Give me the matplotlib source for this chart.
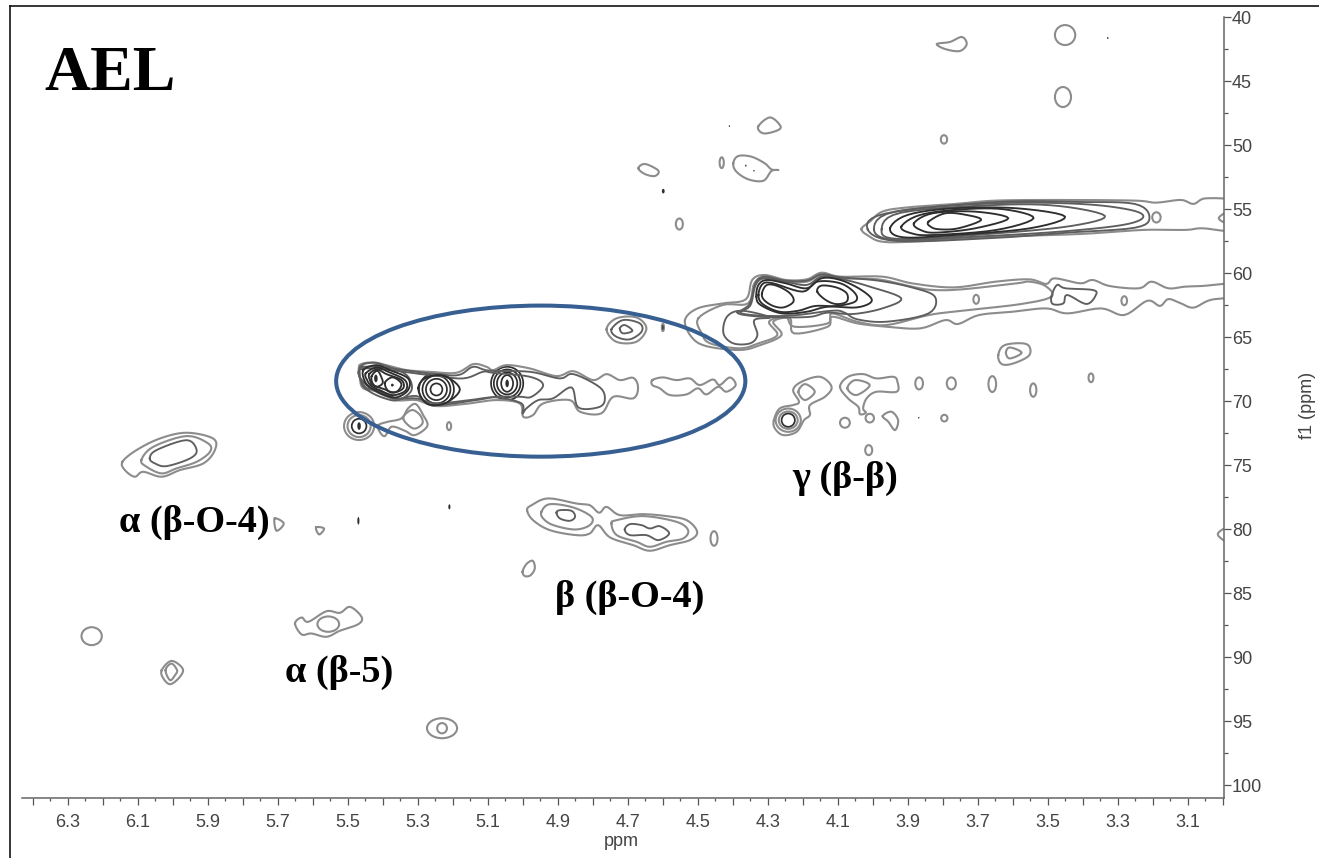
import numpy as np
from matplotlib import pyplot as plt
from matplotlib.lines import Line2D
from matplotlib.patches import Ellipse
from matplotlib.ticker import FixedLocator

W, H = 1319, 858

# contours, as (ppm, f1) vertices
# methoxy band near 56 ppm
ome_outer = [(4.033,56.58),(4.009,55.99),(3.973,55.2),(3.901,54.87),(3.769,54.61),(3.649,54.34),(3.469,54.29),(3.252,54.34),(3.192,54.5),(3.12,54.29),(3.084,54.6),(3.048,54.16),(2.96,54.5),(2.96,56.6),(3.06,56.5),(3.108,56.63),(3.228,56.63),(3.409,56.95),(3.649,57.16),(3.889,57.55),(3.973,57.55),(4.009,57.16)]
ome_2 = [(4.015,56.58),(3.961,55.33),(3.649,54.45),(3.408,54.45),(3.252,54.6),(3.21,55.6),(3.25,56.45),(3.45,56.85),(3.65,57.25),(3.93,57.5)]
ome_3 = [(3.997,56.58),(3.937,55.2),(3.649,54.55),(3.408,54.6),(3.264,55.07),(3.228,55.65),(3.288,56.25),(3.469,56.77),(3.709,57.16),(3.937,57.42)]
ome_4 = [(3.975,56.58),(3.919,55.28),(3.649,54.68),(3.469,54.76),(3.337,55.54),(3.433,56.32),(3.649,56.9),(3.925,57.34)]
ome_5 = [(3.951,56.51),(3.901,55.46),(3.769,54.94),(3.589,54.94),(3.451,55.59),(3.553,56.51),(3.769,57.03),(3.913,57.21)]
ome_6 = [(3.919,56.38),(3.865,55.46),(3.745,55.02),(3.625,55.02),(3.541,55.72),(3.649,56.64),(3.829,57.03),(3.889,56.9)]
ome_7 = [(3.883,56.12),(3.829,55.33),(3.709,55.2),(3.613,55.72),(3.709,56.51),(3.817,56.84),(3.859,56.69)]
ome_8 = [(3.841,55.99),(3.793,55.33),(3.733,55.46),(3.691,55.86),(3.757,56.51),(3.811,56.58),(3.835,56.38)]

# band near 62 ppm
band_outer = [(4.537,63.67),(4.501,62.76),(4.429,62.37),(4.363,62.05),(4.345,60.54),(4.309,60.15),(4.249,60.54),(4.189,60.49),(4.147,59.97),(4.093,60.28),(3.973,60.28),(3.889,60.8),(3.769,61.12),(3.649,60.67),(3.553,60.49),(3.505,60.85),(3.481,60.41),(3.408,60.8),(3.372,60.54),(3.324,61.01),(3.24,61.19),(3.204,60.67),(3.156,61.19),(3.108,61.06),(3.06,61.01),(2.96,60.85),(2.96,61.79),(3.036,62.1),(3.084,62.7),(3.12,62.37),(3.156,62.03),(3.18,62.57),(3.216,62.16),(3.282,63.28),(3.348,62.76),(3.445,63.15),(3.505,62.76),(3.601,63.02),(3.697,63.28),(3.757,63.98),(3.793,63.67),(3.865,64.32),(3.961,64.19),(4.045,63.93),(4.117,63.41),(4.129,64.19),(4.225,64.71),(4.237,63.54),(4.285,63.8),(4.261,64.84),(4.321,65.62),(4.381,66.01),(4.477,65.7),(4.519,64.97)]
band_2 = [(4.499,63.54),(4.489,64.71),(4.465,65.49),(4.381,65.88),(4.327,65.49),(4.273,64.84),(4.297,63.8),(4.249,63.41),(4.225,64.19),(4.129,63.93),(4.117,63.15),(4.045,63.8),(3.961,64.06),(3.841,63.28),(3.745,62.94),(3.577,62.42),(3.49,61.84),(3.507,61.01),(3.553,60.67),(3.589,60.8),(3.745,61.27),(3.829,61.32),(3.889,61.06),(3.985,60.49),(4.093,60.41),(4.147,60.15),(4.189,60.67),(4.249,60.67),(4.309,60.33),(4.339,60.8),(4.357,62.37),(4.429,62.49)]
band_3 = [(4.351,62.37),(4.335,60.75),(4.309,60.28),(4.249,60.59),(4.189,60.59),(4.147,60.1),(4.093,60.33),(3.985,60.59),(3.889,61.12),(3.823,61.84),(3.841,63.15),(3.961,63.8),(4.045,63.61),(4.081,63.09),(4.117,62.94),(4.249,63.35),(4.375,63.15)]
band_4 = [(4.387,63.09),(4.351,62.57),(4.335,60.93),(4.309,60.41),(4.249,60.67),(4.189,60.93),(4.147,60.28),(4.093,60.44),(4.009,61.06),(3.919,61.97),(3.973,62.76),(4.057,63.2),(4.129,63.09),(4.177,63.41),(4.261,63.46),(4.345,63.35)]
band_lobe = [(4.375,62.94),(4.417,63.41),(4.427,64.71),(4.399,65.49),(4.351,65.49),(4.33,64.84),(4.339,63.67),(4.294,63.46)]
band_5 = [(4.333,61.84),(4.327,60.93),(4.303,60.54),(4.249,60.8),(4.189,61.19),(4.147,60.41),(4.093,60.54),(4.033,61.32),(4.003,62.16),(4.045,62.68),(4.129,62.63),(4.189,63.02),(4.261,63.15),(4.321,62.49)]
band_6 = [(4.327,61.71),(4.315,60.85),(4.285,60.8),(4.201,61.45),(4.159,60.67),(4.093,60.8),(4.051,61.58),(4.051,62.23),(4.105,62.57),(4.165,62.57),(4.213,62.94),(4.267,63.02),(4.315,62.42)]
band_peak_l = [(4.317,61.58),(4.303,60.93),(4.273,61.01),(4.237,61.58),(4.227,62.23),(4.255,62.68),(4.285,62.57),(4.311,62.1)]
band_peak_r = [(4.159,61.45),(4.147,60.98),(4.105,61.12),(4.075,61.58),(4.075,62.23),(4.105,62.42),(4.135,62.1)]
band_tail = [(3.49,61.84),(3.474,60.93),(3.45,61.19),(3.372,61.32),(3.363,61.71),(3.39,62.42),(3.445,61.71),(3.456,62.37),(3.486,62.42)]

# circled region near 68 ppm
aryl_outer = [(5.466,67.19),(5.428,66.98),(5.39,67.19),(5.332,67.58),(5.266,67.71),(5.19,67.79),(5.142,67.11),(5.104,67.32),(5.085,67.58),(5.047,67.19),(4.98,67.45),(4.904,68.05),(4.856,67.66),(4.799,68.36),(4.761,67.89),(4.723,68.36),(4.685,68.18),(4.671,68.93),(4.685,69.79),(4.742,69.66),(4.776,70.96),(4.837,70.83),(4.866,69.92),(4.942,70.18),(4.971,71.09),(4.999,71.22),(5.009,70.18),(5.076,69.92),(5.152,70.18),(5.247,70.39),(5.304,69.92),(5.361,69.92),(5.409,69.27),(5.456,69.0),(5.466,68.1)]
aryl_2 = [(5.456,67.32),(5.266,67.84),(5.185,67.97),(5.142,67.32),(5.095,67.63),(4.98,67.71),(4.895,68.23),(4.856,67.89),(4.78,68.93),(4.766,69.92),(4.785,70.49),(4.842,70.49),(4.861,68.93),(4.914,69.79),(4.956,69.92),(4.99,70.57),(5.001,70.96),(5.004,70.18),(5.076,69.71),(5.152,69.92),(5.247,70.18),(5.304,69.79),(5.361,69.79),(5.409,69.14),(5.451,68.88)]
aryl_3 = [(5.456,67.45),(5.266,67.97),(5.171,68.23),(5.114,67.71),(5.085,67.79),(4.98,68.1),(4.942,68.75),(4.975,69.66),(5.009,69.66),(5.076,69.66),(5.133,69.92),(5.256,70.31),(5.304,69.6),(5.371,69.79),(5.447,68.75)]
aryl_mid = [(5.299,69.0),(5.275,68.15),(5.223,68.05),(5.18,69.09),(5.223,70.18),(5.275,70.18)]
aryl_c1 = [(5.464,67.32),(5.428,67.0),(5.39,67.27),(5.332,67.97),(5.318,69.14),(5.356,69.92),(5.394,69.79),(5.437,69.27),(5.461,68.62)]
aryl_c2 = [(5.456,67.58),(5.418,67.19),(5.38,67.58),(5.328,68.23),(5.328,69.14),(5.361,69.71),(5.394,69.53),(5.432,69.0),(5.451,68.49)]
aryl_c3 = [(5.449,67.84),(5.418,67.37),(5.385,67.71),(5.337,68.36),(5.334,69.14),(5.366,69.53),(5.394,69.35),(5.432,68.83),(5.445,68.36)]
aryl_c4 = [(5.439,67.89),(5.416,67.53),(5.39,67.89),(5.347,68.36),(5.342,69.0),(5.371,69.35),(5.394,69.09),(5.428,68.75),(5.437,68.36)]
aryl_c5a = [(5.432,68.05),(5.416,67.63),(5.404,68.15),(5.401,68.62),(5.418,68.88),(5.43,68.57)]
aryl_c5b = [(5.394,68.57),(5.375,68.15),(5.356,68.36),(5.347,68.75),(5.361,69.27),(5.385,69.19)]
aryl_low = [(5.413,71.88),(5.385,71.61),(5.347,71.35),(5.328,70.57),(5.306,70.23),(5.285,71.09),(5.273,71.95),(5.309,72.66),(5.337,72.32),(5.375,72.0),(5.394,72.73),(5.409,72.4)]
aryl_low_in = [(5.342,71.35),(5.318,70.7),(5.294,71.09),(5.287,71.75),(5.313,72.14)]
aryl_right = [(4.63,68.36),(4.6,68.15),(4.561,68.36),(4.523,68.23),(4.495,68.75),(4.457,68.31),(4.438,68.75),(4.409,68.15),(4.392,68.75),(4.419,69.27),(4.442,68.88),(4.476,69.48),(4.5,69.0),(4.533,69.48),(4.58,69.53),(4.609,69.0),(4.63,68.75)]
up_o = [(4.761,64.4),(4.733,63.54),(4.676,63.46),(4.647,64.32),(4.676,65.37),(4.733,65.37)]
up_m = [(4.747,64.4),(4.714,63.67),(4.666,63.93),(4.661,64.58),(4.695,65.18),(4.733,64.97)]
up_i = [(4.723,64.32),(4.709,64.06),(4.687,64.51),(4.714,64.71)]

# alpha (b-O-4) and alpha (b-5) groups
a4_o = [(6.144,74.74),(6.104,73.83),(6.037,72.92),(5.961,72.47),(5.885,72.92),(5.88,73.83),(5.913,74.87),(5.98,75.39),(6.032,75.91),(6.085,75.52),(6.109,75.91),(6.137,75.39)]
a4_m = [(6.09,74.61),(6.056,73.57),(5.961,72.73),(5.899,73.31),(5.894,73.96),(5.932,74.74),(5.99,75.26),(6.032,75.65),(6.075,75.13)]
a4_i = [(6.066,74.48),(6.047,73.83),(5.961,73.05),(5.932,73.83),(5.951,74.48),(6.018,75.08),(6.051,74.87)]
a5_o = [(5.651,87.37),(5.632,86.9),(5.613,87.24),(5.561,86.41),(5.523,86.54),(5.494,86.07),(5.461,86.85),(5.47,87.42),(5.523,87.94),(5.561,88.41),(5.604,88.15),(5.632,88.23)]
ring90_o = [(6.032,91.02),(6.004,90.29),(5.972,90.89),(5.98,91.54),(6.007,92.11),(6.027,91.67)]
ring90_i = [(6.021,91.02),(6.004,90.5),(5.988,91.02),(5.994,91.41),(6.008,91.8)]
tri_1 = [(5.709,79.17),(5.683,79.56),(5.704,80.13)]
tri_2 = [(5.591,79.87),(5.568,79.95),(5.582,80.42)]

# beta (b-O-4)
b4_o = [(4.988,78.52),(4.975,78.13),(4.928,77.6),(4.847,78.0),(4.809,78.13),(4.782,78.72),(4.761,78.26),(4.723,78.91),(4.656,78.83),(4.59,78.98),(4.532,79.3),(4.502,80.21),(4.523,80.86),(4.58,81.25),(4.637,81.69),(4.685,81.25),(4.751,80.65),(4.785,79.69),(4.809,80.34),(4.847,80.47),(4.923,80.08),(4.971,79.3)]
b4_l1 = [(4.947,78.65),(4.923,78.05),(4.856,78.31),(4.804,79.04),(4.809,79.69),(4.851,80.03),(4.913,79.69),(4.942,79.17)]
b4_l2 = [(4.904,78.72),(4.894,78.52),(4.861,78.57),(4.851,79.04),(4.866,79.35),(4.894,79.17)]
b4_r1 = [(4.747,79.56),(4.732,79.3),(4.656,78.98),(4.561,79.43),(4.528,80.08),(4.542,80.73),(4.59,80.99),(4.637,81.38),(4.675,80.99),(4.732,80.47)]
b4_r2 = [(4.709,80.03),(4.694,79.61),(4.661,79.69),(4.637,79.95),(4.609,79.77),(4.582,80.34),(4.613,80.86),(4.647,80.47),(4.694,80.47)]
b4_drop = [(5.001,83.33),(4.99,82.73),(4.972,82.47),(4.966,83.07),(4.978,83.6),(4.994,83.67)]

# gamma (b-b) group
g_a = [(4.283,71.49),(4.266,70.57),(4.228,70.31),(4.211,70.05),(4.228,69.14),(4.204,68.49),(4.151,68.1),(4.118,68.88),(4.137,69.66),(4.18,70.31),(4.18,71.09),(4.197,71.49),(4.218,72.4),(4.256,72.66),(4.28,72.14)]
g_a_in = [(4.213,69.27),(4.194,68.67),(4.166,69.27),(4.194,69.92)]
g_b = [(4.094,68.88),(4.071,68.1),(4.028,67.89),(3.99,68.23),(3.942,68.1),(3.93,68.49),(3.932,69.27),(3.99,69.27),(4.018,69.79),(4.028,70.57),(4.02,70.91),(4.037,71.02),(4.042,70.44),(4.071,69.79)]
g_b_in = [(4.073,69.01),(4.051,68.36),(4.009,68.75),(4.047,69.53)]
g_c = [(3.972,71.17),(3.947,70.83),(3.928,71.49),(3.937,72.27),(3.956,71.61)]
g_up_o = [(3.642,66.41),(3.623,65.62),(3.561,65.55),(3.553,66.41),(3.599,67.06),(3.632,67.11)]
g_up_i = [(3.62,66.22),(3.609,65.81),(3.575,66.22),(3.609,66.67)]

# top of the plot
top_1 = [(3.817,42.11),(3.78,41.95),(3.746,41.56),(3.732,42.11),(3.752,42.66),(3.794,42.5)]
top_2 = [(4.328,48.57),(4.294,47.84),(4.264,48.52),(4.275,48.88),(4.313,49.09)]
top_3 = [(4.399,51.43),(4.385,50.86),(4.347,50.91),(4.309,51.43),(4.29,51.9),(4.27,51.95),(4.29,52.03),(4.313,52.79),(4.356,52.68),(4.39,52.08)]
top_4 = [(4.67,51.82),(4.651,51.48),(4.613,52.0),(4.623,52.42),(4.651,52.27)]

light_contours = [ome_outer, band_outer, aryl_outer, aryl_low, aryl_right, up_o, a4_o, a5_o, ring90_o, tri_1, tri_2,
                  b4_o, b4_drop, g_a, g_b, g_c, g_a_in, g_b_in, g_up_o, g_up_i, top_1, top_2, top_3, top_4, b4_r1, b4_l1,
                  ring90_i, aryl_low_in, a4_m, band_2]
mid_contours = [ome_2, ome_3, band_3, band_lobe, band_tail, aryl_2, aryl_3, up_m, up_i, a4_i, b4_l2, b4_r2, aryl_c1, ome_4, band_4]
dark_contours = [ome_5, ome_6, ome_7, ome_8, band_5, band_6, band_peak_l, band_peak_r, aryl_mid,
                 aryl_c2, aryl_c3, aryl_c4, aryl_c5a, aryl_c5b]

# single small contours
spot_x = [3.19, 3.705, 3.282, 5.211, 4.6, 4.08, 4.009, 4.012, 3.868, 3.776, 3.659, 3.542, 3.377, 3.796, 3.451, 3.457, 4.432, 4.553, 3.797, 4.454, 6.232, 5.556, 5.231, 5.231, 5.468, 5.468, 4.242, 4.242]
spot_y = [55.65, 62.05, 62.16, 71.95, 64.25, 71.69, 71.33, 73.83, 68.62, 68.62, 68.67, 69.14, 68.18, 71.33, 41.41, 46.25, 51.38, 56.17, 49.56, 80.73, 88.36, 87.42, 95.55, 95.55, 71.95, 71.95, 71.49, 71.49]
spot_rx = [0.012, 0.008, 0.008, 0.006, 0.003, 0.014, 0.012, 0.01, 0.011, 0.013, 0.011, 0.009, 0.007, 0.009, 0.029, 0.023, 0.006, 0.01, 0.009, 0.01, 0.029, 0.031, 0.043, 0.014, 0.043, 0.033, 0.036, 0.027]
spot_ry = [0.4, 0.35, 0.35, 0.31, 0.28, 0.39, 0.34, 0.39, 0.47, 0.47, 0.62, 0.52, 0.34, 0.26, 0.78, 0.78, 0.42, 0.43, 0.33, 0.57, 0.7, 0.6, 0.78, 0.4, 1.09, 0.86, 0.91, 0.68]

# nested peaks: x, y, rx, ry
peak_x = [5.045, 5.045, 5.045, 5.045, 5.247, 5.247, 5.247, 5.247, 5.468, 4.242]
peak_y = [68.62, 68.62, 68.62, 68.62, 69.09, 69.09, 69.09, 69.09, 71.95, 71.49]
peak_rx = [0.046, 0.038, 0.029, 0.017, 0.05, 0.04, 0.03, 0.017, 0.021, 0.019]
peak_ry = [1.3, 1.09, 0.86, 0.65, 1.3, 1.09, 0.83, 0.47, 0.57, 0.52]

# filled dots
dot_x = [5.045, 5.468, 5.42, 5.373, 5.47, 5.21, 4.6, 4.599, 3.329, 4.41, 3.869, 4.363, 4.34]
dot_y = [68.62, 71.95, 68.23, 68.75, 79.35, 78.26, 64.25, 53.6, 41.64, 48.52, 71.3, 51.61, 52.01]
dot_rx = [0.005, 0.005, 0.005, 0.004, 0.003, 0.003, 0.002, 0.004, 0.002, 0.002, 0.002, 0.002, 0.002]
dot_ry = [0.3, 0.3, 0.3, 0.11, 0.3, 0.2, 0.2, 0.18, 0.08, 0.06, 0.06, 0.08, 0.06]

# bits of contours running off the right edge
edge_1 = [(2.98,55.07),(3.012,55.72),(2.98,56.25)]
edge_2 = [(2.98,79.7),(3.015,80.4),(2.98,81.2)]

x_major = [round(6.4 - 0.1 * i, 1) for i in range(35)]
x_minor = [round(6.35 - 0.1 * i, 2) for i in range(34)]
y_major = list(range(40, 101, 5))
y_minor = [42.5 + 5 * i for i in range(12)]

labels = ["α (β-O-4)", "β (β-O-4)", "α (β-5)", "γ (β-β)"]
label_x = [6.154, 4.909, 5.68, 4.229]
label_y = [79.45, 85.3, 91.17, 76.02]

plt.rcParams['font.family'] = ['Liberation Sans', 'DejaVu Sans']
GREY = '#8c8c8c'
MID = '#5e5e5e'
DARK = '#2e2e2e'
TEXT = '#444444'


def smooth(pts, closed=True, n=6):
    # catmull-rom through the vertices, so the contour keeps its size
    p = np.array(pts, dtype=float)
    if closed:
        p = np.vstack([p[-1], p, p[0], p[1]])
    else:
        p = np.vstack([p[0], p, p[-1]])
    t = np.linspace(0, 1, n, endpoint=False)[:, None]
    out = []
    for i in range(1, len(p) - 2):
        a, b, c, d = p[i - 1], p[i], p[i + 1], p[i + 2]
        out.append(0.5 * (2 * b + (c - a) * t + (2 * a - 5 * b + 4 * c - d) * t ** 2 + (3 * b - a - 3 * c + d) * t ** 3))
    out.append(p[-2][None, :])
    return np.vstack(out)


fig = plt.figure(figsize=(W / 100, H / 100), dpi=100)
ax = fig.add_axes([22 / W, 1 - 798 / H, (1224 - 22) / W, (798 - 17) / H])
ax.set_xlim(6.431, 2.997)
ax.set_ylim(101, 40)

for group, col, lw in [(light_contours, GREY, 1.5), (mid_contours, MID, 1.35), (dark_contours, DARK, 1.35)]:
    for c in group:
        s = smooth(c)
        ax.plot(s[:, 0], s[:, 1], color=col, lw=lw, solid_joinstyle='round')
for c in [edge_1, edge_2]:
    s = smooth(c, closed=False)
    ax.plot(s[:, 0], s[:, 1], color=GREY, lw=1.5)

for x, y, rx, ry in zip(spot_x, spot_y, spot_rx, spot_ry):
    ax.add_patch(Ellipse((x, y), 2 * rx, 2 * ry, fc='none', ec=GREY, lw=1.5))
for x, y, rx, ry in zip(peak_x, peak_y, peak_rx, peak_ry):
    ax.add_patch(Ellipse((x, y), 2 * rx, 2 * ry, fc='none', ec=DARK, lw=1.25))
for x, y, rx, ry in zip(dot_x, dot_y, dot_rx, dot_ry):
    ax.add_patch(Ellipse((x, y), 2 * rx, 2 * ry, fc=DARK, ec='none'))

ax.add_patch(Ellipse((4.949, 68.44), 1.169, 11.8, fc='none', ec='#375f92', lw=2.9, zorder=5))

for t, x, y in zip(labels, label_x, label_y):
    ax.text(x, y, t, family='Liberation Serif', weight='bold', fontsize=27.5, color='black', ha='left', va='center', zorder=6)

for s in ['left', 'top']:
    ax.spines[s].set_visible(False)
for s in ['right', 'bottom']:
    ax.spines[s].set_color('#666666')
    ax.spines[s].set_linewidth(1.1)

ax.xaxis.set_major_locator(FixedLocator(x_major))
ax.xaxis.set_minor_locator(FixedLocator(x_minor))
ax.set_xticklabels(['%.1f' % v if round(v * 10) % 2 == 1 else '' for v in x_major])
ax.yaxis.tick_right()
ax.yaxis.set_major_locator(FixedLocator(y_major))
ax.yaxis.set_minor_locator(FixedLocator(y_minor))
ax.set_yticklabels([str(v) for v in y_major])
ax.tick_params(axis='x', which='major', length=4.8, width=0.9, color='#555555', labelsize=13, labelcolor=TEXT, pad=7)
ax.tick_params(axis='x', which='minor', length=2.4, width=0.9, color='#555555')
ax.tick_params(axis='y', which='major', length=5.2, width=0.9, color='#555555', labelsize=13, labelcolor=TEXT, pad=0.5)
ax.tick_params(axis='y', which='minor', length=3, width=0.9, color='#555555')

fig.text(621 / W, 1 - 841 / H, 'ppm', fontsize=13, color=TEXT, ha='center', va='center')
fig.text(1307 / W, 1 - 405 / H, 'f1 (ppm)', fontsize=13, color=TEXT, rotation=90, ha='center', va='center')
fig.text(44 / W, 1 - 90 / H, 'AEL', family='Liberation Serif', weight='bold', fontsize=46, color='black', ha='left', va='baseline')

# outer frame of the pasted panel
fig.add_artist(Line2D([9.5 / W, 9.5 / W], [0, 1 - 5.5 / H], color='black', lw=1.1))
fig.add_artist(Line2D([9.5 / W, 1], [1 - 5.5 / H, 1 - 5.5 / H], color='black', lw=1.1))

fig.savefig('out.png', dpi=100)
